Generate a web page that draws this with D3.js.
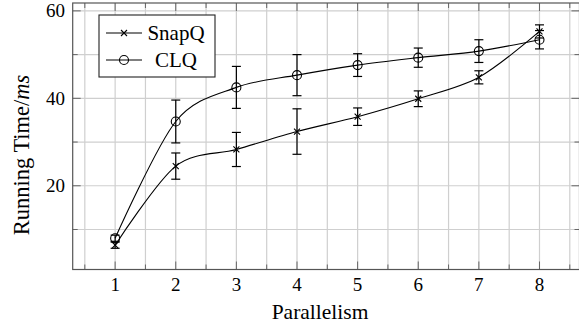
<!DOCTYPE html>
<html><head><meta charset="utf-8">
<script src="https://cdn.jsdelivr.net/npm/d3@7"></script>
<style>body{margin:0;background:#fff}svg{display:block}</style>
</head><body><svg id="c" width="579" height="328" font-family="'Liberation Serif', 'DejaVu Serif', serif"></svg>
<script>
const parallelism = [1,2,3,4,5,6,7,8];
const snapQ = [6.4, 24.5, 28.3, 32.4, 35.8, 39.9, 44.8, 55.3];
const snapQErr = [0.7, 3.0, 3.9, 5.2, 2.0, 1.8, 1.5, 1.5];
const clq = [8.0, 34.7, 42.5, 45.3, 47.6, 49.3, 50.8, 53.4];
const clqErr = [0.7, 4.9, 4.8, 4.7, 2.6, 2.2, 2.6, 2.1];
const xTicks = [1,2,3,4,5,6,7,8];
const yTicks = [20,40,60];
const seriesNames = ["SnapQ","CLQ"];

const svg = d3.select("#c");
const L=72.7, R=579.5, T=3, B=269.5;
const x = d3.scaleLinear().domain([0.3, 8.66]).range([L, R]);
const y = d3.scaleLinear().domain([0.85, 61.8]).range([B, T]);

const xMinor = d3.range(0.5, 8.6, 0.5);
const yMinor = d3.range(10, 61, 10);

// grid
const g = svg.append("g");
g.selectAll(".gx").data(xMinor).enter().append("line")
 .attr("x1",d=>x(d)).attr("x2",d=>x(d)).attr("y1",T).attr("y2",B)
 .attr("stroke","#cfcfcf").attr("stroke-width",1.2);
g.selectAll(".gy").data(yMinor).enter().append("line")
 .attr("x1",L).attr("x2",R).attr("y1",d=>y(d)).attr("y2",d=>y(d))
 .attr("stroke","#cfcfcf").attr("stroke-width",1.2);

// axes with inward ticks
const ax = svg.append("g");
ax.selectAll(".tb").data(xMinor).enter().append("line")
 .attr("x1",d=>x(d)).attr("x2",d=>x(d)).attr("y1",B).attr("y2",d=>B-(Number.isInteger(d)?8:5))
 .attr("stroke","#666").attr("stroke-width",1);
ax.selectAll(".tt").data(xMinor).enter().append("line")
 .attr("x1",d=>x(d)).attr("x2",d=>x(d)).attr("y1",T).attr("y2",d=>T+(Number.isInteger(d)?8:5))
 .attr("stroke","#666").attr("stroke-width",1);
ax.selectAll(".tl").data(yMinor).enter().append("line")
 .attr("x1",L).attr("x2",d=>L+(d%20===0?8:5)).attr("y1",d=>y(d)).attr("y2",d=>y(d))
 .attr("stroke","#666").attr("stroke-width",1);
ax.selectAll(".tr").data(yMinor).enter().append("line")
 .attr("x1",R).attr("x2",d=>R-(d%20===0?8:5)).attr("y1",d=>y(d)).attr("y2",d=>y(d))
 .attr("stroke","#666").attr("stroke-width",1);
ax.append("rect").attr("x",L).attr("y",T).attr("width",R-L).attr("height",B-T)
 .attr("fill","none").attr("stroke","#555").attr("stroke-width",1.2);

// tick labels
svg.selectAll(".xl").data(xTicks).enter().append("text")
 .attr("x",d=>x(d)).attr("y",291).attr("text-anchor","middle").attr("font-size",19).text(d=>d);
svg.selectAll(".yl").data(yTicks).enter().append("text")
 .attr("x",65).attr("y",d=>y(d)+6.5).attr("text-anchor","end").attr("font-size",19).text(d=>d);

// axis labels
svg.append("text").attr("x",320).attr("y",319).attr("text-anchor","middle").attr("font-size",21.5).text("Parallelism");
const yl = svg.append("text").attr("transform","translate(29,155) rotate(-90)").attr("text-anchor","middle").attr("font-size",22.5);
yl.append("tspan").text("Running Time/");
yl.append("tspan").attr("font-style","italic").text("ms");

// data
const line = d3.line().x((d,i)=>x(parallelism[i])).y(d=>y(d)).curve(d3.curveCardinal.tension(0.08));
const plot = svg.append("g");
function drawMarker(sel,m,cx,cy){
  if(m==="x"){
    const s=3;
    sel.append("path").attr("d",`M${cx-s},${cy-s}L${cx+s},${cy+s}M${cx-s},${cy+s}L${cx+s},${cy-s}`).attr("stroke","#000").attr("stroke-width",1.1).attr("fill","none");
  } else {
    sel.append("circle").attr("cx",cx).attr("cy",cy).attr("r",4.5).attr("fill","none").attr("stroke","#000").attr("stroke-width",1.1);
  }
}
[[snapQ,snapQErr,"x"],[clq,clqErr,"o"]].forEach(([vals,errs,m])=>{
  plot.append("path").attr("d",line(vals)).attr("fill","none").attr("stroke","#000").attr("stroke-width",1.1);
  vals.forEach((v,i)=>{
    const cx=x(parallelism[i]);
    const y0=y(v-errs[i]), y1=y(v+errs[i]);
    plot.append("line").attr("x1",cx).attr("x2",cx).attr("y1",y0).attr("y2",y1).attr("stroke","#000").attr("stroke-width",1.2);
    [y0,y1].forEach(yy=>plot.append("line").attr("x1",cx-4.5).attr("x2",cx+4.5).attr("y1",yy).attr("y2",yy).attr("stroke","#000").attr("stroke-width",1.2));
    drawMarker(plot,m,cx,y(v));
  });
});

// legend
const lg = svg.append("g");
lg.append("rect").attr("x",99).attr("y",15).attr("width",116).attr("height",62).attr("fill","#fff").attr("stroke","#222").attr("stroke-width",1.1);
seriesNames.forEach((n,i)=>{
  const cy = 33 + i*27;
  lg.append("line").attr("x1",106).attr("x2",142).attr("y1",cy).attr("y2",cy).attr("stroke","#000").attr("stroke-width",1.1);
  drawMarker(lg, i===0?"x":"o", 124, cy);
  lg.append("text").attr("x",176).attr("y",cy+7).attr("text-anchor","middle").attr("font-size",21).text(n);
});
</script></body></html>
